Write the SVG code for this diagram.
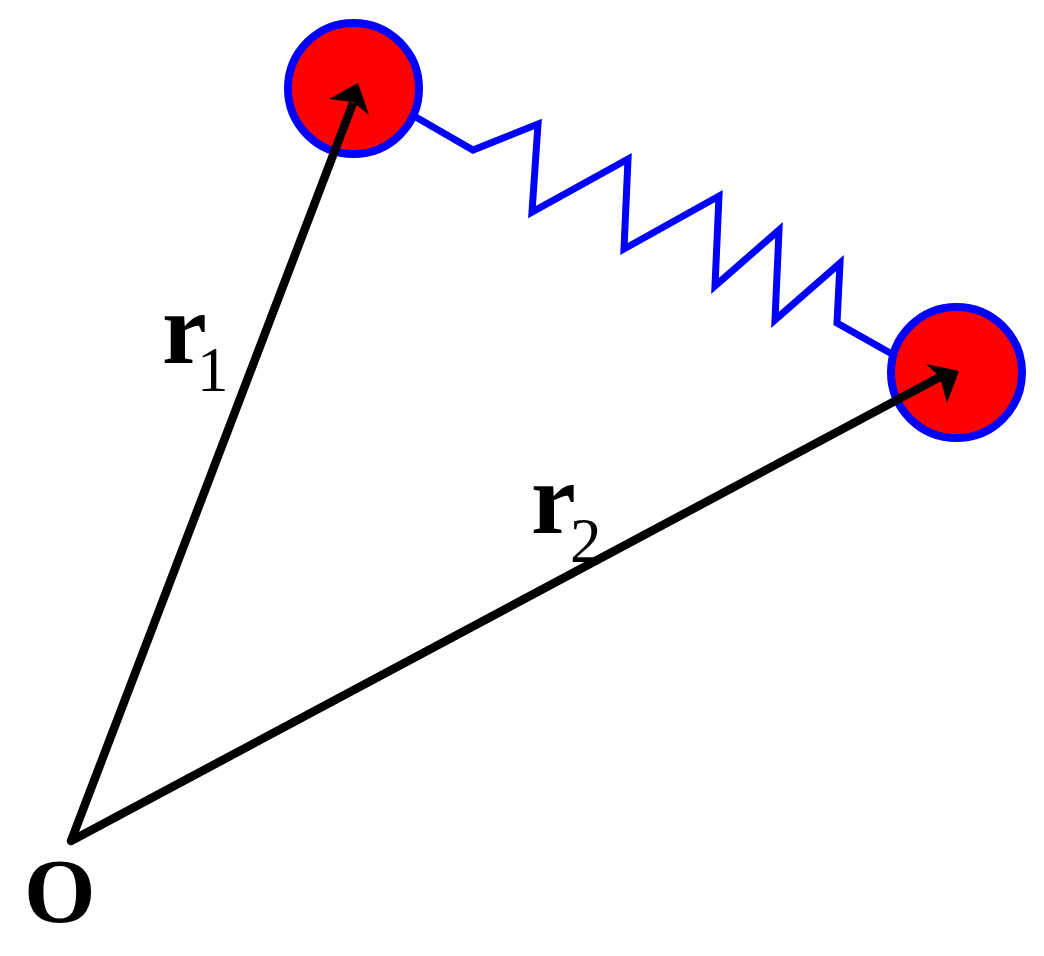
<svg xmlns="http://www.w3.org/2000/svg" width="1044" height="956" viewBox="0 0 1044 956">
<style>
.ball{fill:#ff0000;stroke:#0000ff;stroke-width:8}
.spring{fill:none;stroke:#0000ff;stroke-width:7}
.vec{fill:none;stroke:#000;stroke-width:8.5;stroke-linejoin:round}
.head{fill:#000}
text{font-family:"Liberation Serif","Times New Roman",serif;fill:#000}
.r{font-weight:bold;font-size:101px}
.o{font-weight:bold;font-size:92px}
.s{font-size:63px;font-weight:normal}
</style>
<rect width="1044" height="956" fill="#fff"/>
<g id="particle1"><circle class="ball" cx="353.5" cy="88.5" r="65.5"/></g>
<g id="particle2"><circle class="ball" cx="956.5" cy="372.5" r="65.5"/></g>
<g id="connectors">
<path id="spring" class="spring" d="M414 116L473 150L538 124L532 212L628 159L624 249L719 196L715 286L779 230L775 320L840 263L837 323L892 354"/>
<path id="vectors" class="vec" d="M353 103L71 841L940 377"/>
<path class="head" d="M358 83L369 115L353 102L329 99Z"/>
<path class="head" d="M959 371L947 403L940 377L926 364Z"/>
</g>
<g id="labels">
<text class="r" x="162" y="363">r<tspan class="s" x="197" y="391">1</tspan></text>
<text class="r" x="531" y="533">r<tspan class="s" x="570" y="562">2</tspan></text>
<text class="o" x="24" y="922">O</text>
</g>
</svg>
